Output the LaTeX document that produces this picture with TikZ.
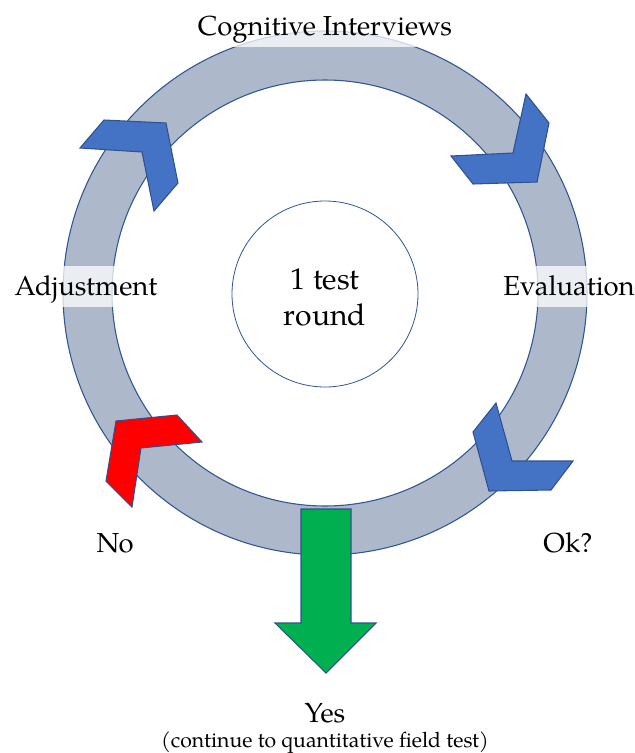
\documentclass[tikz,border=0pt]{standalone}
\usepackage{fontspec}
\setmainfont{TeX Gyre Pagella}
\definecolor{ringfill}{HTML}{ADB9CA}
\definecolor{ringline}{HTML}{2F5597}
\definecolor{chevblue}{HTML}{4472C4}
\definecolor{chevline}{HTML}{2F528F}
\definecolor{chevred}{HTML}{FF0000}
\definecolor{arrowgreen}{HTML}{00B050}
\tikzset{
  chevron/.style={fill=chevblue, draw=chevline, line width=0.8pt, line join=miter},
  redchevron/.style={fill=chevred, draw=chevline, line width=0.8pt, line join=miter},
  greenarrow/.style={fill=arrowgreen, draw=chevline, line width=0.8pt, line join=miter},
  lbl/.style={font=\fontsize{20.6}{24}\selectfont, text=black, inner xsep=4pt, anchor=base},
  lblbox/.style={lbl, fill=white, fill opacity=0.75, text opacity=1,
                 text height=18pt, text depth=5pt, inner ysep=4pt},
}
\begin{document}
\begin{tikzpicture}[x=0.75pt, y=-0.75pt]
\useasboundingbox (0,0) rectangle (635,753);
% ring
\fill[ringfill, even odd rule] (325,293) circle (262) (325,293) circle (213);
\draw[ringline, line width=0.8pt] (325,293) circle (262);
\draw[ringline, line width=0.8pt] (325,293) circle (213);
% centre circle
\node[circle, draw=ringline, line width=0.6pt, minimum size=186*0.75pt, inner sep=0pt] (centre) at (325,294) {};
\node[font=\fontsize{22.5}{26.5}\selectfont, align=center, anchor=base] (ctext) at (325,325) {1 test\\round};
% chevrons
\draw[chevron] (80,148) -- (104,120) -- (166,123) -- (178,183) -- (154,211) -- (142,152) -- cycle;
\draw[chevron] (526,94) -- (549,123) -- (537,182) -- (473,184) -- (451,156) -- (513,153) -- cycle;
\draw[chevron] (496,403) -- (473,432) -- (489,491) -- (551,490) -- (573,461) -- (512,461) -- cycle;
\draw[redchevron] (116,421) -- (177,415) -- (202,442) -- (141,448) -- (132,507) -- (106,481) -- cycle;
% green arrow
\draw[greenarrow] (301,509) -- (351,509) -- (351,623) -- (376,623) -- (326,673) -- (275,623) -- (301,623) -- cycle;
% labels
\node[lblbox] (cog) at (325,35) {Cognitive Interviews};
\node[lblbox] (adj) at (86,295) {Adjustment};
\node[lblbox] (eva) at (569,295) {Evaluation};
\node[lbl] (no) at (115,552) {No};
\node[lbl] (ok) at (568,552) {Ok?};
\node[lbl] (yes) at (325,722) {Yes};
\node[font=\fontsize{15.9}{19}\selectfont, inner sep=0pt, anchor=base] (cont) at (325,747) {(continue to quantitative field test)};
\end{tikzpicture}
\end{document}
